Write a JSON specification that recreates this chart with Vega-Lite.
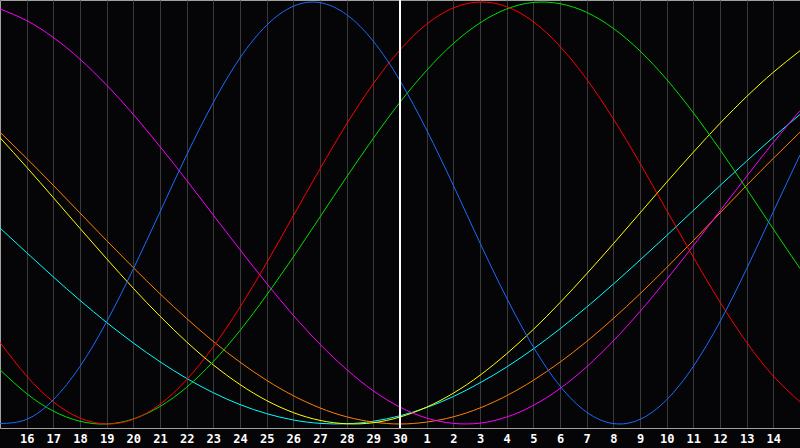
{
  "$schema": "https://vega.github.io/schema/vega-lite/v6.json",
  "autosize": {"type": "none"},
  "padding": {"left": 0, "top": 0, "right": 0, "bottom": 20},
  "width": 800,
  "height": 428,
  "background": "#050407",
  "config": {
    "view": {"stroke": "#a0a0a0", "strokeWidth": 1, "fill": "#050407"}
  },
  "data": {
    "values": [
      {"t": 0, "Physical": -0.998, "Emotional": -0.613, "Intellectual": -0.743, "Intuitive": 0.967, "Aesthetic": 0.357, "Awareness": 0.383, "Spiritual": -0.071},
      {"t": 1, "Physical": -0.978, "Emotional": -0.773, "Intellectual": -0.856, "Intuitive": 0.912, "Aesthetic": 0.217, "Awareness": 0.259, "Spiritual": -0.188},
      {"t": 2, "Physical": -0.885, "Emotional": -0.895, "Intellectual": -0.939, "Intuitive": 0.832, "Aesthetic": 0.073, "Awareness": 0.131, "Spiritual": -0.303},
      {"t": 3, "Physical": -0.727, "Emotional": -0.972, "Intellectual": -0.987, "Intuitive": 0.729, "Aesthetic": -0.073, "Awareness": 0.0, "Spiritual": -0.414},
      {"t": 4, "Physical": -0.515, "Emotional": -1.0, "Intellectual": -1.0, "Intuitive": 0.606, "Aesthetic": -0.217, "Awareness": -0.131, "Spiritual": -0.519},
      {"t": 5, "Physical": -0.265, "Emotional": -0.978, "Intellectual": -0.976, "Intuitive": 0.467, "Aesthetic": -0.357, "Awareness": -0.259, "Spiritual": -0.616},
      {"t": 6, "Physical": 0.005, "Emotional": -0.907, "Intellectual": -0.917, "Intuitive": 0.315, "Aesthetic": -0.489, "Awareness": -0.383, "Spiritual": -0.705},
      {"t": 7, "Physical": 0.275, "Emotional": -0.79, "Intellectual": -0.826, "Intuitive": 0.155, "Aesthetic": -0.611, "Awareness": -0.5, "Spiritual": -0.784},
      {"t": 8, "Physical": 0.524, "Emotional": -0.634, "Intellectual": -0.704, "Intuitive": -0.01, "Aesthetic": -0.72, "Awareness": -0.609, "Spiritual": -0.852},
      {"t": 9, "Physical": 0.735, "Emotional": -0.446, "Intellectual": -0.557, "Intuitive": -0.174, "Aesthetic": -0.813, "Awareness": -0.707, "Spiritual": -0.908},
      {"t": 10, "Physical": 0.89, "Emotional": -0.236, "Intellectual": -0.389, "Intuitive": -0.334, "Aesthetic": -0.889, "Awareness": -0.793, "Spiritual": -0.951},
      {"t": 11, "Physical": 0.98, "Emotional": -0.013, "Intellectual": -0.208, "Intuitive": -0.485, "Aesthetic": -0.946, "Awareness": -0.866, "Spiritual": -0.981},
      {"t": 12, "Physical": 0.997, "Emotional": 0.209, "Intellectual": -0.019, "Intuitive": -0.622, "Aesthetic": -0.983, "Awareness": -0.924, "Spiritual": -0.997},
      {"t": 13, "Physical": 0.94, "Emotional": 0.422, "Intellectual": 0.171, "Intuitive": -0.742, "Aesthetic": -0.999, "Awareness": -0.966, "Spiritual": -0.999},
      {"t": 14, "Physical": 0.814, "Emotional": 0.613, "Intellectual": 0.354, "Intuitive": -0.843, "Aesthetic": -0.994, "Awareness": -0.991, "Spiritual": -0.987},
      {"t": 15, "Physical": 0.627, "Emotional": 0.773, "Intellectual": 0.525, "Intuitive": -0.92, "Aesthetic": -0.967, "Awareness": -1.0, "Spiritual": -0.961},
      {"t": 16, "Physical": 0.393, "Emotional": 0.895, "Intellectual": 0.676, "Intuitive": -0.972, "Aesthetic": -0.92, "Awareness": -0.991, "Spiritual": -0.922},
      {"t": 17, "Physical": 0.131, "Emotional": 0.972, "Intellectual": 0.803, "Intuitive": -0.997, "Aesthetic": -0.854, "Awareness": -0.966, "Spiritual": -0.87},
      {"t": 18, "Physical": -0.142, "Emotional": 1.0, "Intellectual": 0.901, "Intuitive": -0.996, "Aesthetic": -0.769, "Awareness": -0.924, "Spiritual": -0.805},
      {"t": 19, "Physical": -0.403, "Emotional": 0.978, "Intellectual": 0.967, "Intuitive": -0.967, "Aesthetic": -0.667, "Awareness": -0.866, "Spiritual": -0.73},
      {"t": 20, "Physical": -0.635, "Emotional": 0.907, "Intellectual": 0.998, "Intuitive": -0.912, "Aesthetic": -0.552, "Awareness": -0.793, "Spiritual": -0.644},
      {"t": 21, "Physical": -0.82, "Emotional": 0.79, "Intellectual": 0.992, "Intuitive": -0.832, "Aesthetic": -0.425, "Awareness": -0.707, "Spiritual": -0.549},
      {"t": 22, "Physical": -0.944, "Emotional": 0.634, "Intellectual": 0.951, "Intuitive": -0.729, "Aesthetic": -0.288, "Awareness": -0.609, "Spiritual": -0.446},
      {"t": 23, "Physical": -0.998, "Emotional": 0.446, "Intellectual": 0.875, "Intuitive": -0.606, "Aesthetic": -0.146, "Awareness": -0.5, "Spiritual": -0.337},
      {"t": 24, "Physical": -0.978, "Emotional": 0.236, "Intellectual": 0.768, "Intuitive": -0.467, "Aesthetic": 0.0, "Awareness": -0.383, "Spiritual": -0.223},
      {"t": 25, "Physical": -0.885, "Emotional": 0.013, "Intellectual": 0.633, "Intuitive": -0.315, "Aesthetic": 0.146, "Awareness": -0.259, "Spiritual": -0.107},
      {"t": 26, "Physical": -0.727, "Emotional": -0.209, "Intellectual": 0.475, "Intuitive": -0.155, "Aesthetic": 0.288, "Awareness": -0.131, "Spiritual": 0.012},
      {"t": 27, "Physical": -0.515, "Emotional": -0.422, "Intellectual": 0.3, "Intuitive": 0.01, "Aesthetic": 0.425, "Awareness": 0.0, "Spiritual": 0.13},
      {"t": 28, "Physical": -0.264, "Emotional": -0.613, "Intellectual": 0.114, "Intuitive": 0.174, "Aesthetic": 0.552, "Awareness": 0.131, "Spiritual": 0.246},
      {"t": 29, "Physical": 0.006, "Emotional": -0.773, "Intellectual": -0.076, "Intuitive": 0.334, "Aesthetic": 0.667, "Awareness": 0.259, "Spiritual": 0.359},
      {"t": 30, "Physical": 0.275, "Emotional": -0.895, "Intellectual": -0.263, "Intuitive": 0.485, "Aesthetic": 0.769, "Awareness": 0.383, "Spiritual": 0.467}
    ]
  },
  "encoding": {
    "x": {
      "field": "t",
      "type": "quantitative",
      "scale": {"domain": [0, 30], "nice": false, "zero": false},
      "axis": {
        "title": null,
        "values": [1, 2, 3, 4, 5, 6, 7, 8, 9, 10, 11, 12, 13, 14, 15, 16, 17, 18, 19, 20, 21, 22, 23, 24, 25, 26, 27, 28, 29],
        "labelExpr": "datum.value <= 15 ? datum.value + 15 : datum.value - 15",
        "grid": true,
        "gridColor": "#3a3a3a",
        "gridWidth": 1,
        "gridOpacity": 1,
        "ticks": false,
        "domain": true,
        "domainColor": "#a0a0a0",
        "labelColor": "#ffffff",
        "labelFont": "DejaVu Sans Mono",
        "labelFontWeight": "bold",
        "labelFontSize": 12,
        "labelPadding": 5,
        "labelFlush": false,
        "labelOverlap": false
      }
    }
  },
  "layer": [
    {
      "transform": [
        {"fold": ["Spiritual", "Awareness", "Aesthetic", "Intuitive", "Intellectual", "Emotional", "Physical"], "as": ["cycle", "value"]}
      ],
      "mark": {"type": "line", "strokeWidth": 1, "interpolate": "natural"},
      "encoding": {
        "y": {
          "field": "value",
          "type": "quantitative",
          "scale": {"domain": [-1.019, 1.0095], "nice": false, "zero": false},
          "axis": null
        },
        "color": {
          "field": "cycle",
          "type": "nominal",
          "scale": {
            "domain": ["Physical", "Emotional", "Intellectual", "Intuitive", "Aesthetic", "Awareness", "Spiritual"],
            "range": ["#1a6cff", "#ff0000", "#00e000", "#ff00ff", "#ffff00", "#ff8000", "#00ffff"]
          },
          "legend": null
        },
        "detail": {"field": "cycle"}
      }
    },
    {
      "mark": {"type": "rule", "color": "#ffffff", "strokeWidth": 1},
      "encoding": {
        "y": {"datum": 0, "type": "quantitative"}
      }
    },
    {
      "mark": {"type": "rule", "color": "#ffffff", "strokeWidth": 1},
      "encoding": {
        "x": {"datum": 15, "type": "quantitative"}
      }
    }
  ]
}
